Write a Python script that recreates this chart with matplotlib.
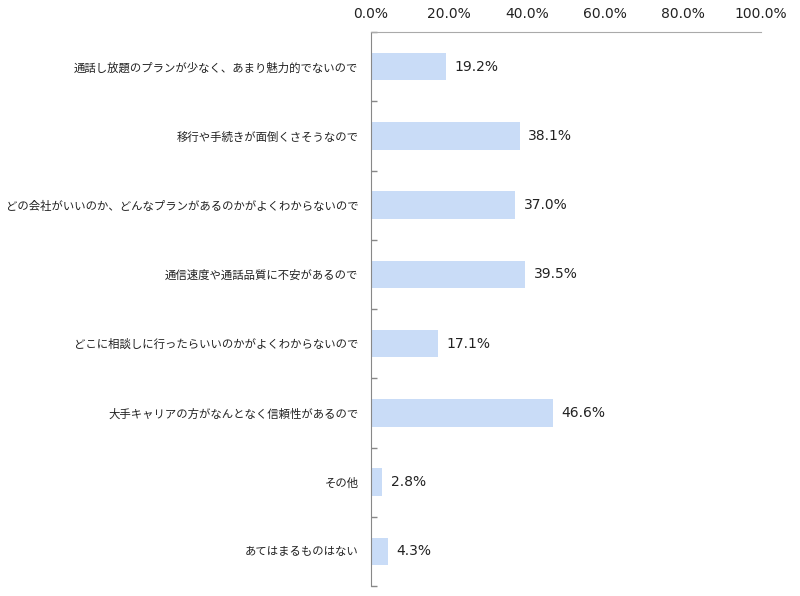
import matplotlib
matplotlib.use("Agg")
import matplotlib.pyplot as plt
from matplotlib.ticker import FixedLocator

plt.rcParams['font.family'] = ['Noto Sans CJK JP', 'DejaVu Sans']

categories = [
    "通話し放題のプランが少なく、あまり魅力的でないので",
    "移行や手続きが面倒くさそうなので",
    "どの会社がいいのか、どんなプランがあるのかがよくわからないので",
    "通信速度や通話品質に不安があるので",
    "どこに相談しに行ったらいいのかがよくわからないので",
    "大手キャリアの方がなんとなく信頼性があるので",
    "その他",
    "あてはまるものはない",
]
values = [19.2, 38.1, 37.0, 39.5, 17.1, 46.6, 2.8, 4.3]
xticks = [0, 20, 40, 60, 80, 100]
xtick_labels = ["0.0%", "20.0%", "40.0%", "60.0%", "80.0%", "100.0%"]

fig = plt.figure(figsize=(8, 5.96), dpi=100)
ax = fig.add_axes([371/800, 1-586/596, 390/800, 554/596])

n = len(categories)
ypos = list(range(n))
ax.barh(ypos, values, height=0.4, color="#C9DCF7", edgecolor="none")
ax.set_ylim(n-0.5, -0.5)
ax.set_xlim(0, 100)

for y, v in zip(ypos, values):
    ax.text(v + 2.2, y, f"{v:.1f}%", va="center", ha="left", fontsize=10,
            color="#222222", family="DejaVu Sans")

ax.xaxis.tick_top()
ax.set_xticks(xticks)
ax.set_xticklabels(xtick_labels, fontsize=10, color="#222222", family="DejaVu Sans")
ax.tick_params(axis="x", length=0, pad=8)

ax.set_yticks(ypos)
ax.set_yticklabels(categories, fontsize=8.2, color="#222222")
ax.tick_params(axis="y", which="major", length=0, pad=9)
ax.yaxis.set_minor_locator(FixedLocator([i + 0.5 for i in range(-1, n)]))
ax.tick_params(axis="y", which="minor", direction="in", length=4, color="#888888", width=1)

for s in ["right", "bottom"]:
    ax.spines[s].set_visible(False)
ax.spines["left"].set_color("#888888")
ax.spines["top"].set_color("#AAAAAA")

fig.savefig("out.png", dpi=100)
